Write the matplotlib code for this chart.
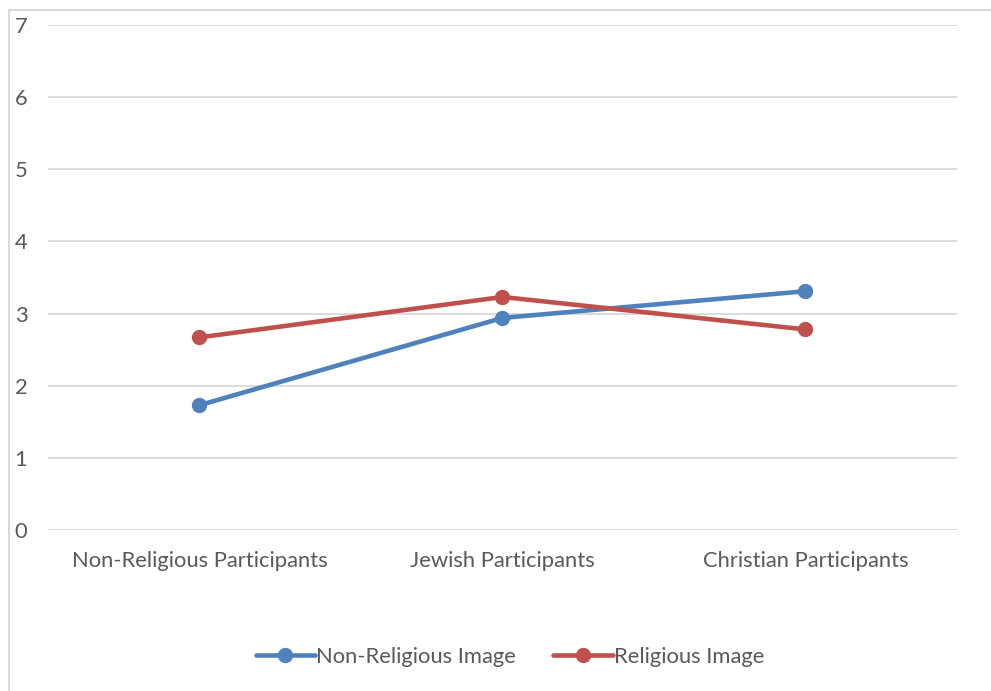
import matplotlib
matplotlib.use("Agg")
import matplotlib.pyplot as plt
from matplotlib.patches import Rectangle

categories = ["Non-Religious Participants", "Jewish Participants", "Christian Participants"]
non_religious_image = [1.73, 2.94, 3.31]
religious_image = [2.67, 3.23, 2.78]
yticks = [0, 1, 2, 3, 4, 5, 6, 7]

W, H = 991, 691
fig = plt.figure(figsize=(W / 100, H / 100), dpi=100)
plt.rcParams['font.family'] = ['Lato', 'DejaVu Sans']
txt = '#595959'
fs = 15.8

# outer chart border
fig.patches.append(Rectangle((9 / W, -0.05), 1.1, (H - 10) / H + 0.05, transform=fig.transFigure,
                             fill=False, edgecolor='#D9D9D9', linewidth=1.5))

ax = fig.add_axes([48 / W, (H - 530) / H, (957 - 48) / W, (530 - 25) / H])
x = list(range(len(categories)))
ax.plot(x, non_religious_image, color='#4F81BD', lw=3.3, marker='o', ms=10,
        solid_capstyle='round', label='Non-Religious Image')
ax.plot(x, religious_image, color='#C0504D', lw=3.3, marker='o', ms=10,
        solid_capstyle='round', label='Religious Image')

ax.set_xlim(-0.5, 2.5)
ax.set_ylim(0, 7)
ax.set_yticks(yticks)
ax.set_yticklabels([str(v) for v in yticks])
ax.set_xticks(x)
ax.set_xticklabels(categories)
ax.grid(axis='y', color='#D9D9D9', lw=1.3)
ax.set_axisbelow(True)
for s in ax.spines.values():
    s.set_visible(False)
ax.tick_params(axis='both', length=0, colors=txt, labelsize=fs)
ax.tick_params(axis='x', pad=15)
for lab in ax.get_yticklabels():
    lab.set_horizontalalignment('left')
ax.tick_params(axis='y', pad=24)

leg = fig.legend(loc='center', bbox_to_anchor=(510 / W, (H - 657) / H), ncol=2, frameon=False,
                 fontsize=fs, handlelength=2.7, handletextpad=0.05, columnspacing=1.7)
for t in leg.get_texts():
    t.set_color(txt)

fig.savefig('out.png', dpi=100)
